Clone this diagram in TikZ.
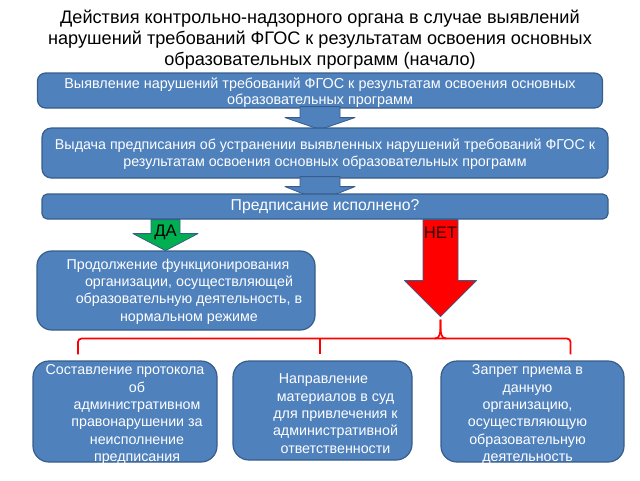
\documentclass[tikz,border=0pt]{standalone}
\usepackage{fontspec}
\setmainfont{Liberation Sans}
\usetikzlibrary{calc}
\definecolor{boxc}{HTML}{4F81BD}
\definecolor{bordc}{HTML}{385D8A}
\definecolor{greenc}{HTML}{00B050}
\definecolor{redc}{HTML}{FF0000}
\tikzset{
  box/.style={draw=bordc, fill=boxc, line width=0.9pt, inner sep=0pt},
  boxtext/.style={text=white, align=center, inner sep=0pt, font=\fontsize{10.7pt}{13pt}\selectfont},
  blockarrow/.style={fill=boxc, draw=bordc, line width=0.6pt, line join=round},
  brace/.style={draw=redc, line width=1.3pt, rounded corners=2.5pt},
}
\begin{document}
\begin{tikzpicture}[x=0.75pt, y=-0.75pt]
\useasboundingbox (0,0) rectangle (640,480);
% title
\node[align=center, inner sep=0pt, font=\fontsize{13.6pt}{15.75pt}\selectfont] (title) at (320,39.5)
  {Действия контрольно-надзорного органа в случае выявлений\\
   нарушений требований ФГОС к результатам освоения основных\\
   образовательных программ (начало)};
% box 1
\node[box, rounded corners=6pt, minimum width=423.75pt, minimum height=26.25pt] (b1) at (320,90.5) {};
\node[boxtext, font=\fontsize{10.8pt}{12pt}\selectfont] (t1) at ($(b1)+(0,2)$) {Выявление нарушений требований ФГОС к результатам освоения основных\\образовательных программ};
% arrow 1
\coordinate (a1) at (b1.south);
\draw[blockarrow] ($(a1)+(-20,-2)$) -- ($(a1)+(20,-2)$) -- ($(a1)+(20,9)$) -- ($(a1)+(35,9)$)
  -- ($(a1)+(0,21)$) -- ($(a1)+(-35,9)$) -- ($(a1)+(-20,9)$) -- cycle;
% box 2
\node[box, rounded corners=7pt, minimum width=424.5pt, minimum height=37.5pt] (b2) at (325,153) {};
\node[boxtext] (t2) at ($(b2)+(0,1)$) {Выдача предписания об устранении выявленных нарушений требований ФГОС к\\результатам освоения основных образовательных программ};
% arrow 2
\coordinate (a2) at (b2.south -| b1.south);
\draw[blockarrow] ($(a2)+(-20,-2)$) -- ($(a2)+(20,-2)$) -- ($(a2)+(20,8)$) -- ($(a2)+(35,8)$)
  -- ($(a2)+(0,22)$) -- ($(a2)+(-35,8)$) -- ($(a2)+(-20,8)$) -- cycle;
% box 3
\node[box, rounded corners=4pt, minimum width=424.5pt, minimum height=18.75pt] (b3) at (325,206.5) {};
\node[boxtext, font=\fontsize{11.8pt}{13pt}\selectfont] (t3) at (b3) {Предписание исполнено?};
% ДА arrow
\coordinate (da) at ($(b3.south)+(-159.5,0)$);
\draw[blockarrow, fill=greenc] ($(da)+(-14.5,0)$) -- ($(da)+(14.5,0)$) -- ($(da)+(14.5,14)$) -- ($(da)+(32.5,14)$)
  -- ($(da)+(0,31)$) -- ($(da)+(-32.5,14)$) -- ($(da)+(-14.5,14)$) -- cycle;
\node[inner sep=0pt, font=\fontsize{12.5pt}{13pt}\selectfont] (dal) at ($(da)+(0,13)$) {ДА};
% НЕТ arrow
\coordinate (net) at ($(b3.south)+(115.5,0)$);
\draw[blockarrow, fill=redc] ($(net)+(-17.5,0)$) -- ($(net)+(17.5,0)$) -- ($(net)+(17.5,61)$) -- ($(net)+(36,61)$)
  -- ($(net)+(0,97)$) -- ($(net)+(-36,61)$) -- ($(net)+(-17.5,61)$) -- cycle;
\node[inner sep=0pt, text=black!80!red, font=\fontsize{12.5pt}{13pt}\selectfont] (netl) at ($(net)+(0,13)$) {НЕТ};
% box 4
\node[box, rounded corners=11pt, minimum width=208.5pt, minimum height=59.25pt] (b4) at (176,290.5) {};
\node[boxtext] (t4) at ($(b4)+(13,1)$) {Продолжение функционирования\hspace*{16.5pt}\\организации, осуществляющей\\образовательную деятельность, в\\нормальном режиме};
% bottom boxes
\node[box, rounded corners=12pt, minimum width=138pt, minimum height=75.75pt] (b5) at (125,411.5) {};
\node[boxtext] (t5) at ($(b5)+(12,3)$) {Составление протокола\hspace*{18pt}\\об\\административном\\правонарушении за\\неисполнение\\предписания};
\node[box, rounded corners=12pt, minimum width=134.25pt, minimum height=74.25pt] (b6) at (322.5,410.5) {};
\node[boxtext] (t6) at ($(b6)+(13,3)$) {Направление\hspace*{18pt}\\материалов в суд\\для привлечения к\\административной\\ответственности};
\node[box, rounded corners=12pt, minimum width=137.25pt, minimum height=75.75pt] (b7) at (532.5,411.5) {};
\node[boxtext] (t7) at ($(b7)+(-5,3)$) {Запрет приема в\\данную\\организацию,\\осуществляющую\\образовательную\\деятельность};
% brace
\coordinate (tip) at ($(net)+(0,100)$);
\coordinate (bh) at ($(net)+(0,119)$);
\coordinate (bl) at ($(b5.north)+(-47,0)$);
\coordinate (bm) at ($(b6.north)+(-2.5,0)$);
\coordinate (br) at ($(b7.north)+(38,0)$);
\draw[brace] ($(bl)+(0,-6)$) -- (bl |- bh) -- (br |- bh) -- ($(br)+(0,-6)$);
\draw[redc, line width=1.3pt] (tip) .. controls ($(tip)+(0,14)$) and ($(bh)+(0,0)$) .. ($(bh)+(-6,0)$);
\draw[redc, line width=1.3pt] (tip) .. controls ($(tip)+(0,14)$) and ($(bh)+(0,0)$) .. ($(bh)+(6,0)$);
\draw[redc, line width=1.3pt] (bm |- bh) -- ($(bm)+(0,-6)$);
\end{tikzpicture}
\end{document}
